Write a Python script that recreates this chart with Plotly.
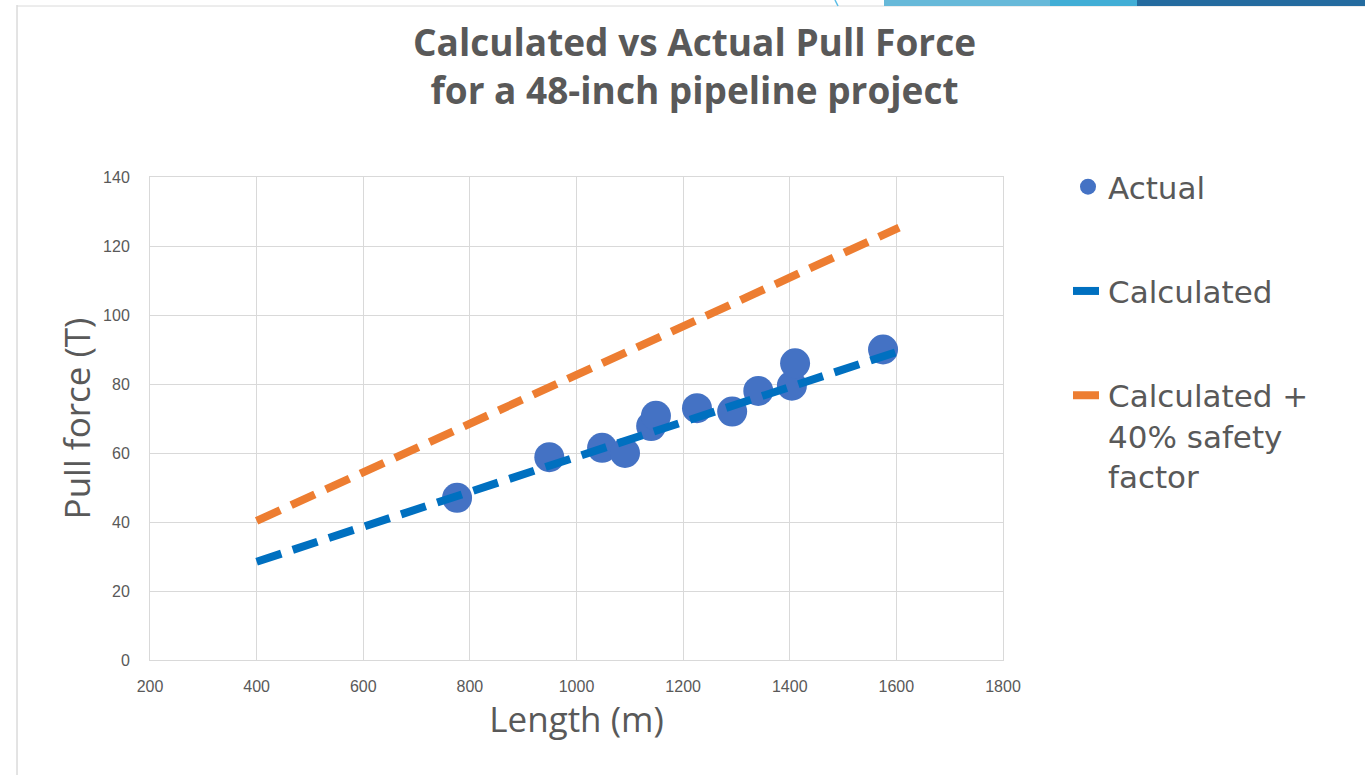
import plotly.graph_objects as go

# Data
actual_length = [776, 949, 1048, 1091, 1140, 1149, 1226, 1292, 1341, 1404, 1410, 1575]
actual_force = [47, 58.8, 61.5, 60, 67.8, 70.8, 73, 72, 78, 79.5, 86, 90]

calc_length = [400, 1605]
calc_force = [28.5, 89.5]

safety_length = [400, 1605]
safety_force = [40.3, 125.3]

x_ticks = [200, 400, 600, 800, 1000, 1200, 1400, 1600, 1800]
y_ticks = [0, 20, 40, 60, 80, 100, 120, 140]

title_lines = ["Calculated vs Actual Pull Force", "for a 48-inch pipeline project"]

GRAY = "#595959"
GRID = "#D9D9D9"

fig = go.Figure()

fig.add_trace(go.Scatter(
    x=actual_length, y=actual_force, mode="markers", name="Actual",
    marker=dict(color="#4472C4", size=30, line=dict(width=0)),
    legendgroup="a",
))
fig.add_trace(go.Scatter(
    x=calc_length, y=calc_force, mode="lines", name="Calculated",
    line=dict(color="#0070C0", width=8, dash="26px,12px"),
    legendgroup="b",
))
fig.add_trace(go.Scatter(
    x=safety_length, y=safety_force, mode="lines",
    name="Calculated +<br>40% safety<br>factor",
    line=dict(color="#ED7D31", width=8, dash="26px,12px"),
    legendgroup="c",
))

# Paper coordinate helpers (plot area spans px 150..1003 horizontally, 177..660 vertically)
def px(xp):
    return (xp - 150) / 853.0

def py(yp):
    return (660 - yp) / 483.0

shapes = [
    # slide border lines
    dict(type="line", xref="paper", yref="paper", x0=px(17), x1=px(17), y0=py(5), y1=py(775),
         line=dict(color="#C8C8C8", width=1)),
    dict(type="line", xref="paper", yref="paper", x0=px(17), x1=px(1365), y0=py(6), y1=py(6),
         line=dict(color="#DADADA", width=1)),
    # top-right decorative bar
    dict(type="rect", xref="paper", yref="paper", x0=px(884), x1=px(1050), y0=py(6), y1=py(-2),
         fillcolor="#67B9D9", line=dict(width=0)),
    dict(type="rect", xref="paper", yref="paper", x0=px(1050), x1=px(1137), y0=py(6), y1=py(-2),
         fillcolor="#41AED6", line=dict(width=0)),
    dict(type="rect", xref="paper", yref="paper", x0=px(1137), x1=px(1366), y0=py(6), y1=py(-2),
         fillcolor="#246B9F", line=dict(width=0)),
    dict(type="line", xref="paper", yref="paper", x0=px(835), x1=px(838), y0=py(0), y1=py(6),
         line=dict(color="#5BBDE6", width=1.5)),
]

annotations = [
    dict(text="<b>" + "<br>".join(title_lines) + "</b>",
         xref="paper", yref="paper", x=px(694), y=py(14), xanchor="center", yanchor="top",
         showarrow=False, align="center",
         font=dict(family="Open Sans", size=37, color=GRAY)),
]

fig.update_layout(
    width=1365, height=775,
    margin=dict(l=150, r=362, t=177, b=115),
    paper_bgcolor="white", plot_bgcolor="white",
    xaxis=dict(
        range=[200, 1800], tickvals=x_ticks, ticktext=[str(v) for v in x_ticks],
        showgrid=True, gridcolor=GRID, gridwidth=1,
        showline=True, linecolor=GRID, linewidth=1, mirror=True,
        zeroline=False, ticks="outside", ticklen=12, tickcolor="rgba(0,0,0,0)",
        tickfont=dict(family="Liberation Sans", size=16, color=GRAY),
        title=dict(text="Length (m)", font=dict(family="Open Sans", size=35, color=GRAY), standoff=6),
    ),
    yaxis=dict(
        range=[0, 140], tickvals=y_ticks, ticktext=[str(v) for v in y_ticks],
        showgrid=True, gridcolor=GRID, gridwidth=1,
        showline=True, linecolor=GRID, linewidth=1, mirror=True,
        zeroline=False, ticks="outside", ticklen=16, tickcolor="rgba(0,0,0,0)",
        tickfont=dict(family="Liberation Sans", size=16, color=GRAY),
        title=dict(text="Pull force (T)", font=dict(family="Open Sans", size=35, color=GRAY), standoff=1),
    ),
    legend=dict(
        x=px(1068), xanchor="left", y=py(160), yanchor="top",
        font=dict(family="DejaVu Sans", size=31, color=GRAY),
        tracegroupgap=61, valign="top",
        bgcolor="rgba(0,0,0,0)",
    ),
    shapes=shapes,
    annotations=annotations,
    showlegend=True,
)

fig.write_html("out.html")
